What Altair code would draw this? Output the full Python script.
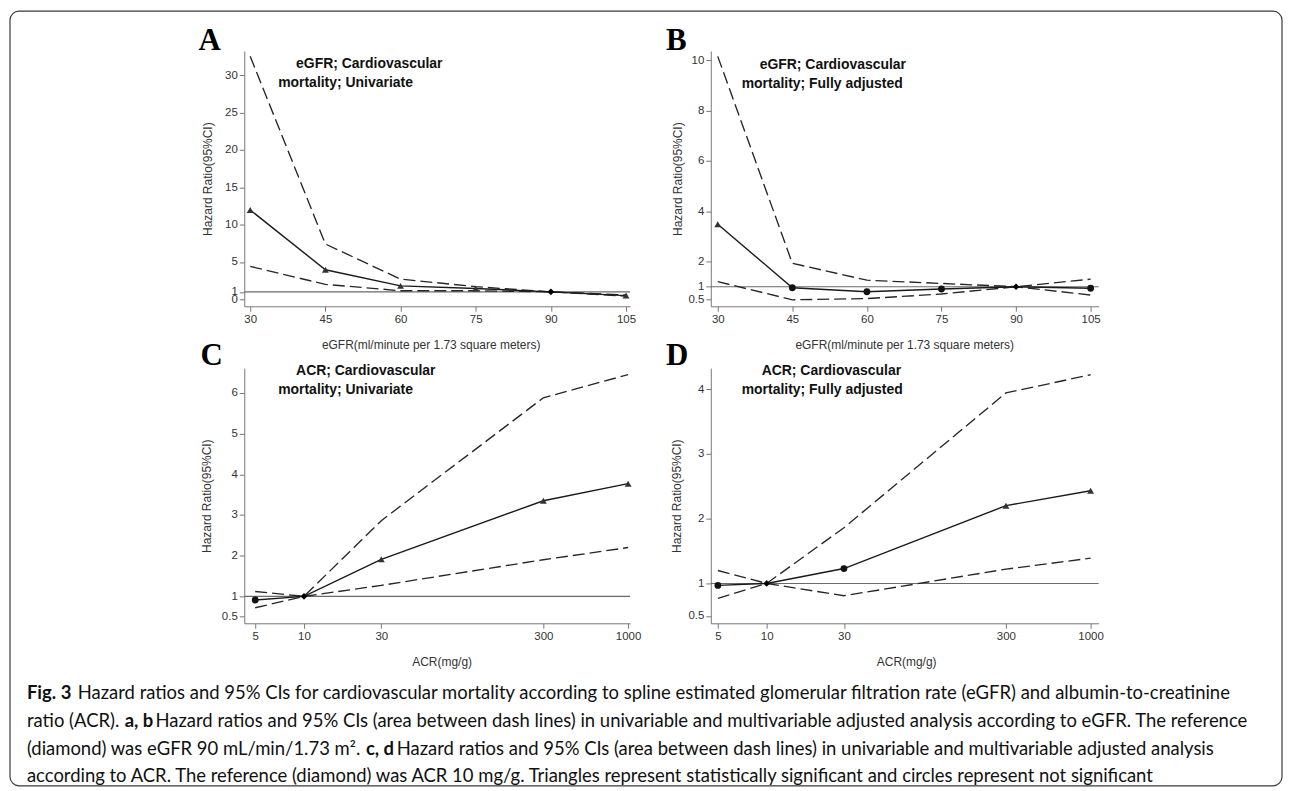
import altair as alt
import pandas as pd

# ---------------- data ----------------
egfr_x = [30, 45, 60, 75, 90, 105]
acr_x = [5, 10, 30, 300, 1000]

a_hr = [11.95, 3.95, 1.8, 1.45, 1.0, 0.5]
a_hi = [32.5, 7.4, 2.7, 1.7, 1.0, 0.58]
a_lo = [4.4, 2.0, 1.15, 1.15, 1.0, 0.42]
a_sig = ["sig", "sig", "sig", "sig", "ref", "sig"]

b_hr = [3.48, 0.96, 0.8, 0.91, 1.0, 0.94]
b_hi = [10.15, 1.93, 1.26, 1.13, 1.0, 0.67]
b_lo = [1.2, 0.48, 0.53, 0.71, 1.0, 1.3]
b_sig = ["sig", "ns", "ns", "ns", "ref", "ns"]

c_hr = [0.91, 1.0, 1.91, 3.35, 3.77]
c_hi = [1.12, 1.0, 2.86, 5.88, 6.45]
c_lo = [0.72, 1.0, 1.27, 1.9, 2.2]
c_sig = ["ns", "ref", "sig", "sig", "sig"]

d_hr = [0.97, 1.0, 1.23, 2.2, 2.43]
d_hi = [0.77, 1.0, 1.86, 3.94, 4.22]
d_lo = [1.2, 1.0, 0.81, 1.22, 1.39]
d_sig = ["ns", "ref", "ns", "sig", "sig"]

egfr_ticks = [30, 45, 60, 75, 90, 105]
acr_ticks = [5, 10, 30, 300, 1000]
a_yticks = [0, 1, 5, 10, 15, 20, 25, 30]
b_yticks = [0.5, 1, 2, 4, 6, 8, 10]
c_yticks = [0.5, 1, 2, 3, 4, 5, 6]
d_yticks = [0.5, 1, 2, 3, 4]

y_title = "Hazard Ratio(95%CI)"
egfr_title = "eGFR(ml/minute per 1.73 square meters)"
acr_title = "ACR(mg/g)"

a_head = ["eGFR; Cardiovascular", "mortality; Univariate"]
b_head = ["eGFR; Cardiovascular", "mortality; Fully adjusted"]
c_head = ["ACR; Cardiovascular", "mortality; Univariate"]
d_head = ["ACR; Cardiovascular", "mortality; Fully adjusted"]

caption_segments = [
    ("Fig. 3", True),
    ("Hazard ratios and 95% CIs for cardiovascular mortality according to spline estimated glomerular filtration rate (eGFR) and albumin-to-creatinine", False),
    ("ratio (ACR).", False),
    ("a, b", True),
    ("Hazard ratios and 95% CIs (area between dash lines) in univariable and multivariable adjusted analysis according to eGFR. The reference", False),
    ("(diamond) was eGFR 90 mL/min/1.73 m\u00b2.", False),
    ("c, d", True),
    ("Hazard ratios and 95% CIs (area between dash lines) in univariable and multivariable adjusted analysis", False),
    ("according to ACR. The reference (diamond) was ACR 10 mg/g. Triangles represent statistically significant and circles represent not significant", False),
]

SANS = "Liberation Sans"


def text_layer(txt, x, y, size, bold=False, font=SANS, baseline="alphabetic", color="#111"):
    return alt.Chart(pd.DataFrame({"t": [txt]})).mark_text(
        align="left", baseline=baseline, font=font, fontSize=size,
        fontWeight="bold" if bold else "normal", color=color
    ).encode(text="t:N", x=alt.value(x), y=alt.value(y))


def panel(xs, hr, hi, lo, sig, xdom, xlog, xticks, xtitle, xtitle_x, xtitle_y,
          ydom, yticks, ytitle_x, w, h, head, head_pos, letter, letter_pos, extra=None):
    df = pd.DataFrame({"x": xs, "y": hr, "sig": sig})
    band = pd.DataFrame({"x": xs * 2, "y": hi + lo, "band": ["hi"] * len(xs) + ["lo"] * len(xs)})
    ref = pd.DataFrame({"y": [1.0]})

    xscale = alt.Scale(domain=xdom, type="log" if xlog else "linear", nice=False, zero=False)
    yscale = alt.Scale(domain=ydom, nice=False, zero=False)
    xaxis = alt.Axis(values=xticks, labelExpr="'' + datum.value", title=xtitle,
                     titleX=xtitle_x, titleY=xtitle_y, titleBaseline="middle", titleAlign="center",
                     labelOverlap=False, labelFlush=False)
    yaxis = alt.Axis(values=yticks, labelExpr="'' + datum.value", title=y_title,
                     titleX=ytitle_x, titleY=h / 2, titleBaseline="middle", titleAlign="center",
                     titleAngle=270, labelOverlap=False)
    X = alt.X("x:Q", scale=xscale, axis=xaxis)
    Y = alt.Y("y:Q", scale=yscale, axis=yaxis)

    rule = alt.Chart(ref).mark_rule(color="#6a6a6a", strokeWidth=1.1).encode(y=Y)
    dash = alt.Chart(band).mark_line(color="#262626", strokeWidth=1.35, strokeDash=[12, 5]).encode(
        x=X, y=Y, detail="band:N")
    solid = alt.Chart(df).mark_line(color="#1a1a1a", strokeWidth=1.4).encode(x=X, y=Y)
    pts = alt.Chart(df).mark_point(filled=True, opacity=1).encode(
        x=X, y=Y,
        shape=alt.Shape("sig:N", scale=alt.Scale(domain=["sig", "ns", "ref"],
                                                 range=["triangle-up", "circle", "diamond"]), legend=None),
        color=alt.Color("sig:N", scale=alt.Scale(domain=["sig", "ns", "ref"],
                                                 range=["#333333", "#111111", "#000000"]), legend=None),
        size=alt.Size("sig:O", scale=alt.Scale(domain=["sig", "ns", "ref"], range=[48, 45, 95]), legend=None),
    )
    layers = [rule, dash, solid, pts]
    layers.append(text_layer(head[0], head_pos[0], head_pos[1], 14, bold=True))
    layers.append(text_layer(head[1], head_pos[2], head_pos[3], 14, bold=True))
    layers.append(text_layer(letter, letter_pos[0], letter_pos[1], 31, bold=True,
                             font="Liberation Serif", color="#000"))
    if extra:
        layers.extend(extra)
    return alt.layer(*layers).properties(width=w, height=h)


W1, H = 387, 256
W2 = 389

pA = panel(egfr_x, a_hr, a_hi, a_lo, a_sig, [28.81, 105.8], False, egfr_ticks, egfr_title, 187, 38,
           [-0.93, 33.2], a_yticks, -37, W1, H, a_head, (52, 17.3, 34, 36.3), "A", (-46, -1.3))
pB = panel(egfr_x, b_hr, b_hi, b_lo, b_sig, [28.6, 106.6], False, egfr_ticks, egfr_title, 194, 38,
           [0.223, 10.36], b_yticks, -33, W2, H, b_head, (49, 18, 31, 37), "B", (-45, -1.3))

# caption + border live in panel C (coordinates relative to C's plot origin)
cap_y = [326, 354, 382, 409]
cap_x = [
    (-218, 0), (-167, 0),
    (-218, 1), (-120, 1), (-89, 1),
    (-218, 2), (122, 2), (153, 2),
    (-218, 3),
]
extra = []
border = alt.Chart(pd.DataFrame({"b": [1]})).mark_rect(
    fillOpacity=0, stroke="#3a3a3a", strokeWidth=1.2, cornerRadius=9
).encode(x=alt.value(-235), x2=alt.value(1041), y=alt.value(-358), y2=alt.value(419))
extra.append(border)
for (txt, bold), (cx, li) in zip(caption_segments, cap_x):
    extra.append(text_layer(txt, cx, cap_y[li], 18.5, bold=bold, font="Lato", baseline="middle", color="#111"))

pC = panel(acr_x, c_hr, c_hi, c_lo, c_sig, [4.28, 1028], True, acr_ticks, acr_title, 198, 38,
           [0.338, 6.61], c_yticks, -38, W1, H, c_head, (52, 7.3, 34, 25.7), "C", (-44, -3.3), extra)
pD = panel(acr_x, d_hr, d_hi, d_lo, d_sig, [4.52, 1120], True, acr_ticks, acr_title, 196, 38,
           [0.385, 4.323], d_yticks, -34, W2, H, d_head, (51, 7.3, 31, 26), "D", (-45, -3.3))

chart = alt.concat(
    pA, pB, pC, pD, columns=2, bounds="flush", align="each",
    spacing={"row": 62, "column": 81}
).properties(
    padding=0, background="white"
).configure_view(stroke="transparent").configure_axis(
    grid=False, domainColor="#777777", tickColor="#777777", domainWidth=1, tickWidth=1, tickSize=5,
    labelColor="#333333", titleColor="#333333", labelFont=SANS, titleFont=SANS,
    labelFontSize=11.5, titleFontSize=12, titleFontWeight="normal", labelPadding=2
)

chart.save("out.html", embed_options={"renderer": "svg", "actions": False})
